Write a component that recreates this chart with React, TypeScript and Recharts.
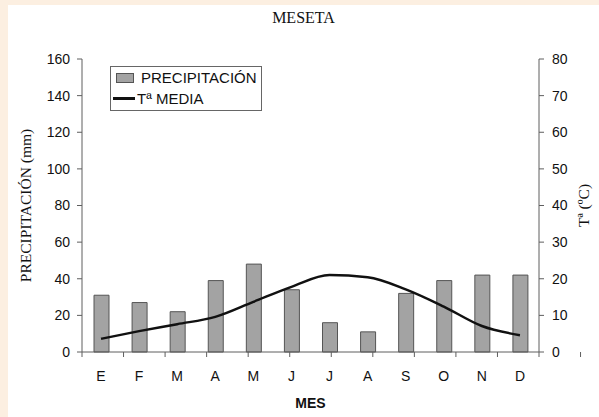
import { ComposedChart, Bar, Line, XAxis, YAxis, Legend, Label } from 'recharts'

const MESES = ['E', 'F', 'M', 'A', 'M', 'J', 'J', 'A', 'S', 'O', 'N', 'D']
const PRECIPITACION = [31, 27, 22, 39, 48, 34, 16, 11, 32, 39, 42, 42]
const TEMPERATURA = [3.6, 5.7, 7.6, 9.6, 13.7, 17.8, 21, 20.4, 17.1, 12.4, 7.1, 4.6]
const TICKS_MM = [0, 20, 40, 60, 80, 100, 120, 140, 160]
const TICKS_T = [0, 10, 20, 30, 40, 50, 60, 70, 80]
const LIMITES = [0, 1, 2, 3, 4, 5, 6, 7, 8, 9, 10, 11, 12]

const data = MESES.map((mes, i) => ({
  mes,
  precipitacion: PRECIPITACION[i],
  temperatura: TEMPERATURA[i],
}))

const SANS = 'Arial, "Liberation Sans", sans-serif'
const SERIF = '"Times New Roman", "Liberation Serif", serif'
const AXIS = '#5e5e5e'

function LeyendaCaja() {
  return (
    <div
      style={{
        border: '1px solid #666',
        background: '#fff',
        width: 150,
        height: 43,
        fontFamily: SANS,
        fontSize: 15,
        color: '#111',
        boxSizing: 'content-box',
      }}
    >
      <div style={{ display: 'flex', alignItems: 'center', height: 21, paddingLeft: 5 }}>
        <span style={{ width: 16, height: 8, background: '#a3a3a3', border: '1px solid #555', marginRight: 7 }} />
        <span>PRECIPITACIÓN</span>
      </div>
      <div style={{ display: 'flex', alignItems: 'center', height: 21, paddingLeft: 2 }}>
        <span style={{ width: 22, height: 3, background: '#111', marginRight: 2 }} />
        <span>Tª MEDIA</span>
      </div>
    </div>
  )
}

export default function App() {
  return (
    <div style={{ position: 'absolute', left: 0, top: 0, width: 599, height: 417, background: '#fcefe1' }}>
      <div style={{ position: 'absolute', left: 8, top: 5, width: 591, height: 412, background: '#fff' }}>
        <div
          style={{
            position: 'absolute',
            left: 0,
            width: 591,
            top: 4,
            textAlign: 'center',
            fontFamily: SERIF,
            fontSize: 16,
            color: '#111',
          }}
        >
          MESETA
        </div>
        <ComposedChart width={591} height={412} data={data} margin={{ top: 54, right: 0, bottom: 0, left: 0 }}>
          <XAxis
            xAxisId="lim"
            type="number"
            domain={[0, 12]}
            ticks={LIMITES}
            height={6}
            tick={{ fontSize: 1, fill: 'none' }}
            tickFormatter={() => ''}
            tickSize={5}
            tickMargin={0}
            stroke={AXIS}
            allowDataOverflow
          />
          <XAxis
            xAxisId="mes"
            dataKey="mes"
            height={59}
            axisLine={false}
            tickLine={false}
            tickSize={0}
            tickMargin={13}
            interval={0}
            tick={{ fontFamily: SANS, fontSize: 14, fill: '#111' }}
          >
            <Label
              value="MES"
              position="insideBottom"
              offset={9}
              style={{ fontFamily: SANS, fontSize: 14, fontWeight: 'bold', fill: '#111' }}
            />
          </XAxis>
          <YAxis
            yAxisId="mm"
            width={74}
            domain={[0, 160]}
            ticks={TICKS_MM}
            tickSize={5}
            tickMargin={7}
            stroke={AXIS}
            tick={{ fontFamily: SANS, fontSize: 14, fill: '#111' }}
          >
            <Label
              value="PRECIPITACIÓN (mm)"
              position="center"
              angle={-90}
              dx={-20}
              style={{ fontFamily: SERIF, fontSize: 15.5, fill: '#111', textAnchor: 'middle' }}
            />
          </YAxis>
          <YAxis
            yAxisId="t"
            orientation="right"
            width={60}
            domain={[0, 80]}
            ticks={TICKS_T}
            tickSize={5}
            tickMargin={8}
            stroke={AXIS}
            tick={{ fontFamily: SANS, fontSize: 14, fill: '#111' }}
          >
            <Label
              value="Tª (ºC)"
              position="center"
              angle={-90}
              dx={14}
              style={{ fontFamily: SERIF, fontSize: 15.5, fill: '#111', textAnchor: 'middle' }}
            />
          </YAxis>
          <Legend
            layout="vertical"
            align="center"
            verticalAlign="middle"
            content={() => <LeyendaCaja />}
            wrapperStyle={{ left: 102, top: 61, width: 152 }}
          />
          <Bar
            xAxisId="mes"
            yAxisId="mm"
            dataKey="precipitacion"
            name="PRECIPITACIÓN"
            barSize={15}
            fill="#a3a3a3"
            stroke="#555"
            strokeWidth={1}
            isAnimationActive={false}
          />
          <Line
            xAxisId="mes"
            yAxisId="t"
            dataKey="temperatura"
            name="Tª MEDIA"
            type="monotone"
            stroke="#111"
            strokeWidth={2.5}
            dot={false}
            isAnimationActive={false}
          />
        </ComposedChart>
      </div>
    </div>
  )
}
